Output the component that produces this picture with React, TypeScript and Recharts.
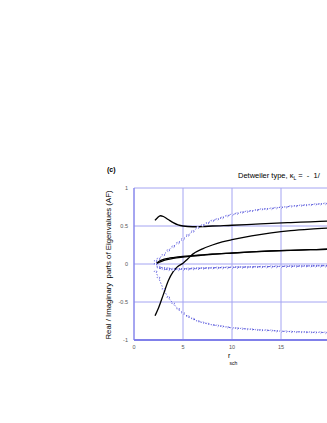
import React from "react";
import { LineChart, Line, XAxis, YAxis, CartesianGrid } from "recharts";

// blue dotted series share one x grid (one marker per step)
const blueX = [2.2, 2.5, 3, 3.5, 4, 4.5, 5, 5.5, 6, 6.5, 7, 7.5, 8, 8.5, 9, 9.5, 10, 10.5, 11, 11.5, 12, 12.5, 13, 13.5, 14, 14.5, 15, 15.5, 16, 16.5, 17, 17.5, 18, 18.5, 19, 19.5, 20];
const blueUpper = [0.04, 0.07, 0.12, 0.18, 0.23, 0.28, 0.33, 0.38, 0.43, 0.48, 0.51, 0.54, 0.57, 0.59, 0.61, 0.635, 0.65, 0.665, 0.68, 0.69, 0.7, 0.71, 0.72, 0.725, 0.73, 0.74, 0.745, 0.75, 0.76, 0.765, 0.77, 0.775, 0.78, 0.785, 0.79, 0.795, 0.8];
const blueLower = [-0.1, -0.18, -0.33, -0.44, -0.52, -0.59, -0.645, -0.69, -0.72, -0.75, -0.77, -0.785, -0.8, -0.81, -0.82, -0.83, -0.84, -0.845, -0.85, -0.855, -0.86, -0.865, -0.87, -0.872, -0.875, -0.88, -0.885, -0.887, -0.89, -0.892, -0.894, -0.896, -0.898, -0.9, -0.9, -0.902, -0.905];
const blueNearA = [0, -0.035, -0.05, -0.058, -0.062, -0.063, -0.062, -0.06, -0.057, -0.055, -0.053, -0.051, -0.049, -0.047, -0.046, -0.044, -0.043, -0.041, -0.04, -0.039, -0.037, -0.036, -0.035, -0.034, -0.033, -0.032, -0.031, -0.03, -0.029, -0.028, -0.027, -0.026, -0.025, -0.024, -0.023, -0.022, -0.021];
const blueNearB = [0, -0.05, -0.068, -0.074, -0.075, -0.073, -0.07, -0.067, -0.064, -0.061, -0.058, -0.056, -0.053, -0.051, -0.049, -0.047, -0.046, -0.044, -0.043, -0.041, -0.04, -0.038, -0.037, -0.036, -0.035, -0.034, -0.033, -0.032, -0.031, -0.03, -0.029, -0.028, -0.027, -0.026, -0.025, -0.024, -0.023];

// black solid curves
const blackTopX = [2.15, 2.4, 2.7, 3, 3.5, 4, 4.5, 5, 6, 7, 8, 10, 12, 14, 16, 18, 20];
const blackTopY = [0.575, 0.61, 0.635, 0.625, 0.585, 0.545, 0.515, 0.5, 0.49, 0.493, 0.5, 0.51, 0.522, 0.535, 0.545, 0.555, 0.565];
const blackRiseX = [2.15, 2.5, 3, 3.5, 4, 4.5, 5, 5.5, 6, 7, 8, 9, 10, 12, 14, 16, 18, 20];
const blackRiseY = [-0.68, -0.58, -0.4, -0.22, -0.1, -0.03, 0.01, 0.07, 0.13, 0.2, 0.25, 0.29, 0.32, 0.37, 0.41, 0.44, 0.46, 0.475];
const blackLowX = [2.2, 2.6, 3, 3.5, 4, 5, 6, 7, 8, 10, 12, 14, 16, 18, 20];
const blackLowY = [0, 0.04, 0.06, 0.075, 0.085, 0.1, 0.11, 0.12, 0.13, 0.145, 0.16, 0.172, 0.18, 0.188, 0.195];
const blackLow2Y = [0, 0.025, 0.045, 0.06, 0.073, 0.09, 0.104, 0.116, 0.128, 0.144, 0.159, 0.171, 0.18, 0.188, 0.195];

// tick at 20 sits on the clipped right border, so it is not listed
const xTicks = [0, 5, 10, 15];
const yTicks = [-1, -0.5, 0, 0.5, 1];

const blueData = blueX.map((x, i) => ({ x, u: blueUpper[i], l: blueLower[i], a: blueNearA[i], b: blueNearB[i] }));
const toPts = (xs: number[], ys: number[]) => xs.map((x, i) => ({ x, y: ys[i] }));

const BLUE = "#3c3cd6";
const blueDot = { r: 1.2, fill: "#fff", stroke: BLUE, strokeWidth: 0.8 };
const font = "'Liberation Sans', Arial, sans-serif";

export default function App() {
  return (
    <div style={{ position: "absolute", left: 0, top: 0, width: 327, height: 423, overflow: "hidden", background: "#fff", fontFamily: font }}>
      <LineChart width={400} height={423} data={blueData} margin={{ top: 188, right: 70, bottom: 63, left: 114 }}>
        <CartesianGrid stroke="#a4a4f2" strokeWidth={1} />
        <XAxis
          type="number"
          dataKey="x"
          domain={[0, 20]}
          ticks={xTicks}
          height={20}
          tickLine={false}
          tickSize={0}
          tickMargin={5}
          axisLine={{ stroke: "#8080ea", strokeWidth: 2 }}
          tick={{ fontSize: 5.5, fill: "#555", fontFamily: font }}
        />
        <YAxis
          type="number"
          domain={[-1, 1]}
          ticks={yTicks}
          width={20}
          tickLine={false}
          tickSize={0}
          tickMargin={6}
          axisLine={{ stroke: "#7a7ae8", strokeWidth: 1 }}
          tick={{ fontSize: 5.5, fill: "#555", fontFamily: font }}
        />
        <Line dataKey="u" type="monotone" stroke={BLUE} strokeWidth={0.9} strokeDasharray="1.2 1.8" dot={blueDot} isAnimationActive={false} />
        <Line dataKey="l" type="monotone" stroke={BLUE} strokeWidth={0.9} strokeDasharray="1.2 1.8" dot={blueDot} isAnimationActive={false} />
        <Line dataKey="a" type="monotone" stroke={BLUE} strokeWidth={0.9} strokeDasharray="1.2 1.8" dot={blueDot} isAnimationActive={false} />
        <Line dataKey="b" type="monotone" stroke={BLUE} strokeWidth={0.9} strokeDasharray="1.2 1.8" dot={blueDot} isAnimationActive={false} />
        <Line data={toPts(blackTopX, blackTopY)} dataKey="y" type="monotone" stroke="#000" strokeWidth={1.3} dot={false} isAnimationActive={false} />
        <Line data={toPts(blackRiseX, blackRiseY)} dataKey="y" type="monotone" stroke="#000" strokeWidth={1.3} dot={false} isAnimationActive={false} />
        <Line data={toPts(blackLowX, blackLowY)} dataKey="y" type="monotone" stroke="#000" strokeWidth={1.3} dot={false} isAnimationActive={false} />
        <Line data={toPts(blackLowX, blackLow2Y)} dataKey="y" type="monotone" stroke="#000" strokeWidth={1.3} dot={false} isAnimationActive={false} />
      </LineChart>
      <svg width={327} height={423} style={{ position: "absolute", left: 0, top: 0, pointerEvents: "none" }}>
        <text x={107} y={172} fontSize={7} fontWeight="bold" fontFamily={font} fill="#000">(c)</text>
        <text x={238} y={178} fontSize={7.5} fontFamily={font} fill="#000" style={{ whiteSpace: "pre" }}>
          Detweiler type, κ<tspan fontSize={5} dy={2}>L</tspan><tspan dy={-2}>{" =  -  1/"}</tspan>
        </text>
        <text
          x={111}
          y={265}
          fontSize={7.8}
          fontFamily={font}
          fill="#000"
          textAnchor="middle"
          transform="rotate(-90 111 265)"
          style={{ whiteSpace: "pre" }}
        >
          {"Real / Imaginary  parts of Eigenvalues (AF)"}
        </text>
        <text x={228} y={358} fontSize={7} fontFamily={font} fill="#000">r</text>
        <text x={229.5} y={364.5} fontSize={5} fontFamily={font} fill="#000">sch</text>
      </svg>
    </div>
  );
}
